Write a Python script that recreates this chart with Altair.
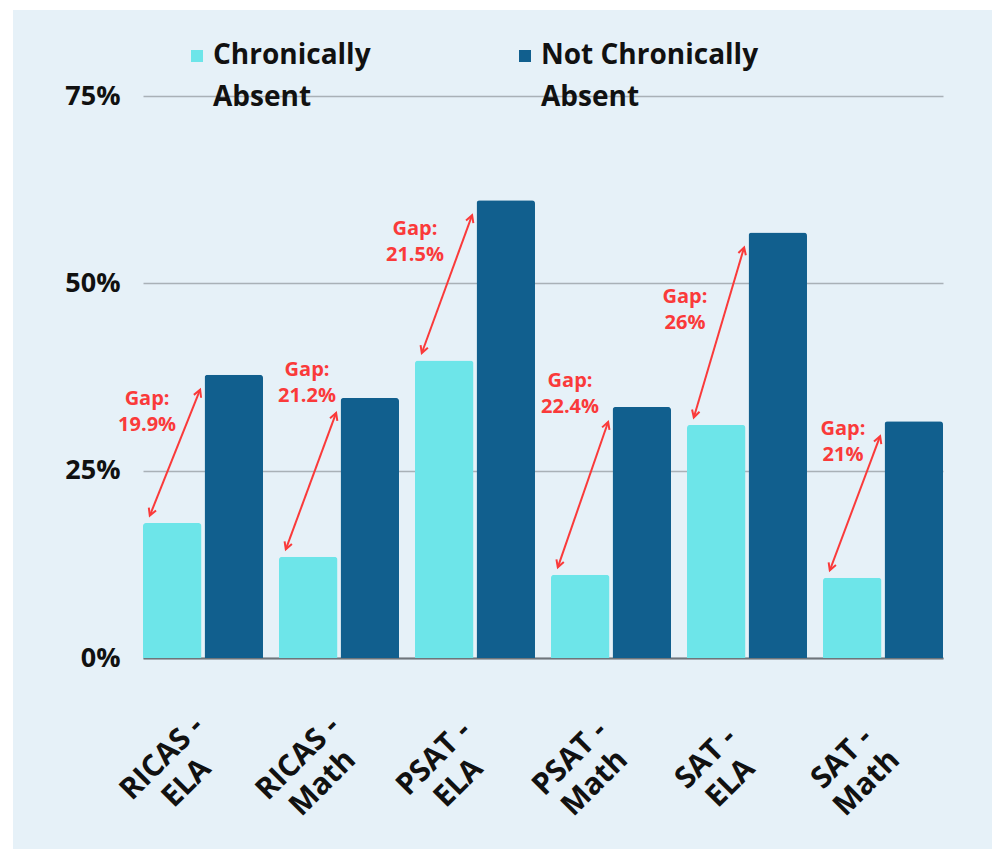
import math
import altair as alt
import pandas as pd

# ---------------- data ----------------
CATEGORIES = ["RICAS - ELA", "RICAS - Math", "PSAT - ELA", "PSAT - Math", "SAT - ELA", "SAT - Math"]
SERIES = ["Chronically Absent", "Not Chronically Absent"]
CHRONIC = [18.0, 13.5, 39.7, 11.1, 31.1, 10.7]
NOT_CHRONIC = [37.8, 34.7, 61.1, 33.5, 56.8, 31.6]
GAPS = [19.9, 21.2, 21.5, 22.4, 26, 21]
Y_TICKS = [0, 25, 50, 75]

# ---------------- style / layout ----------------
W, H = 800, 562
BG = "#e6f1f8"
C_LIGHT = "#6de5e9"
C_DARK = "#115f8e"
RED = "#fa3a3a"
FONT = "Open Sans"
PAD_INNER = 16 / 136
Y_MAX = 75
XQ_DOMAIN = [0, 6 - PAD_INNER]           # one unit == one category step
PX_PER_UNIT = W / XQ_DOMAIN[1]
PX_PER_PCT = H / Y_MAX

# annotation placement (offsets within a category step, in step units / percent)
ARROW_X0, ARROW_X1 = 0.05, 0.42
ARROW_LO_PAD, ARROW_HI_PAD = 1.0, 2.0
ANNOT_DX = [0.03, 0.206, 0.0, 0.14, -0.015, 0.147]
ANNOT_Y = [34.6, 38.4, 57.3, 37.0, 48.2, 30.6]

bars_df = pd.DataFrame({
    "category": CATEGORIES * 2,
    "series": [SERIES[0]] * len(CATEGORIES) + [SERIES[1]] * len(CATEGORIES),
    "value": CHRONIC + NOT_CHRONIC,
})

arrow_rows, head_rows, label_rows = [], [], []
for i, (lo, hi, g) in enumerate(zip(CHRONIC, NOT_CHRONIC, GAPS)):
    x0, x1 = i + ARROW_X0, i + ARROW_X1
    y0, y1 = lo + ARROW_LO_PAD, hi - ARROW_HI_PAD
    arrow_rows.append({"x0": x0, "x1": x1, "y0": y0, "y1": y1})
    ang = math.degrees(math.atan2((x1 - x0) * PX_PER_UNIT, (y1 - y0) * PX_PER_PCT))
    head_rows.append({"x": x1, "y": y1, "angle": ang % 360})
    head_rows.append({"x": x0, "y": y0, "angle": (ang + 180) % 360})
    label_rows.append({"x": i + ANNOT_DX[i], "y": ANNOT_Y[i], "head": "Gap:", "gap": f"{g:g}%"})

arrow_df = pd.DataFrame(arrow_rows)
head_df = pd.DataFrame(head_rows)
label_df = pd.DataFrame(label_rows)

xq = alt.Scale(domain=XQ_DOMAIN, nice=False, zero=False)

bars = alt.Chart(bars_df).mark_bar(cornerRadiusTopLeft=3, cornerRadiusTopRight=3).encode(
    x=alt.X("category:N", sort=CATEGORIES, title=None,
            scale=alt.Scale(paddingInner=PAD_INNER, paddingOuter=0),
            axis=alt.Axis(labelAngle=-45, labelAlign="center", labelBaseline="middle",
                          labelExpr="[split(datum.label, ' - ')[0] + ' -', split(datum.label, ' - ')[1]]",
                          labelFont=FONT, labelFontSize=30, labelFontWeight="bold", labelColor="#111111",
                          labelLineHeight=35, labelOffset=-41, labelPadding=100,
                          ticks=False, domain=True, domainColor="#6e757b", domainWidth=2,
                          grid=False, labelOverlap=False)),
    xOffset=alt.XOffset("series:N", sort=SERIES,
                        scale=alt.Scale(paddingInner=0.05, paddingOuter=0)),
    y=alt.Y("value:Q", title=None,
            scale=alt.Scale(domain=[0, Y_MAX], nice=False),
            axis=alt.Axis(values=Y_TICKS, labelExpr="datum.value + '%'",
                          labelFont=FONT, labelFontSize=27, labelFontWeight="bold", labelColor="#111111",
                          labelPadding=23, ticks=False, domain=False,
                          grid=True, gridColor="#a9b1b7", gridWidth=1.5)),
    color=alt.Color("series:N", sort=SERIES,
                    scale=alt.Scale(domain=SERIES, range=[C_LIGHT, C_DARK]),
                    legend=alt.Legend(title=None, orient="none", legendX=40, legendY=-54,
                                      direction="horizontal", columns=2, columnPadding=140,
                                      symbolType="square", symbolSize=144, symbolStrokeWidth=0,
                                      labelFont=FONT, labelFontSize=28, labelFontWeight="bold",
                                      labelColor="#111111", labelOffset=2, labelLimit=400,
                                      labelBaseline="middle", padding=0,
                                      labelExpr="[slice(datum.label, 0, lastindexof(datum.label, ' ')), slice(datum.label, lastindexof(datum.label, ' ') + 1)]")),
)

arrows = alt.Chart(arrow_df).mark_rule(color=RED, strokeWidth=2).encode(
    x=alt.X("x0:Q", scale=xq, axis=None),
    x2="x1:Q",
    y=alt.Y("y0:Q", title=None),
    y2="y1:Q",
)

HEAD_PATH = "M-0.55,1 L0,0 L0.55,1"
heads = alt.Chart(head_df).mark_point(shape=HEAD_PATH, filled=False, color=RED, strokeWidth=2,
                                      size=200, opacity=1).encode(
    x=alt.X("x:Q", scale=xq, axis=None),
    y=alt.Y("y:Q", title=None),
    angle=alt.Angle("angle:Q", scale=None),
)

label_base = alt.Chart(label_df).encode(
    x=alt.X("x:Q", scale=xq, axis=None),
    y=alt.Y("y:Q", title=None),
)
text_style = dict(color=RED, font=FONT, fontSize=20, fontWeight="bold", align="center", baseline="middle")
labels_head = label_base.mark_text(**text_style).encode(text="head:N")
labels_gap = label_base.mark_text(dy=26, **text_style).encode(text="gap:N")

strip_df = pd.DataFrame({"k": [0]})
top_strip = alt.Chart(strip_df).mark_rect(color="white").encode(
    x=alt.value(-143), x2=alt.value(849), y=alt.value(-96), y2=alt.value(-86))
left_strip = alt.Chart(strip_df).mark_rect(color="white").encode(
    x=alt.value(-143), x2=alt.value(-130), y=alt.value(-96), y2=alt.value(753))

chart = alt.layer(bars, arrows, heads, labels_head, labels_gap, top_strip, left_strip).resolve_scale(
    x="independent"
).properties(
    width=W, height=H, background=BG,
    autosize=alt.AutoSizeParams(type="none"),
    padding={"left": 143, "top": 96, "right": 49, "bottom": 191},
).configure(
    style={"guide-label": {"lineHeight": 42}},
    view=alt.ViewConfig(stroke=None),
)

chart.save("out.html", embed_options={"renderer": "svg", "actions": False})
